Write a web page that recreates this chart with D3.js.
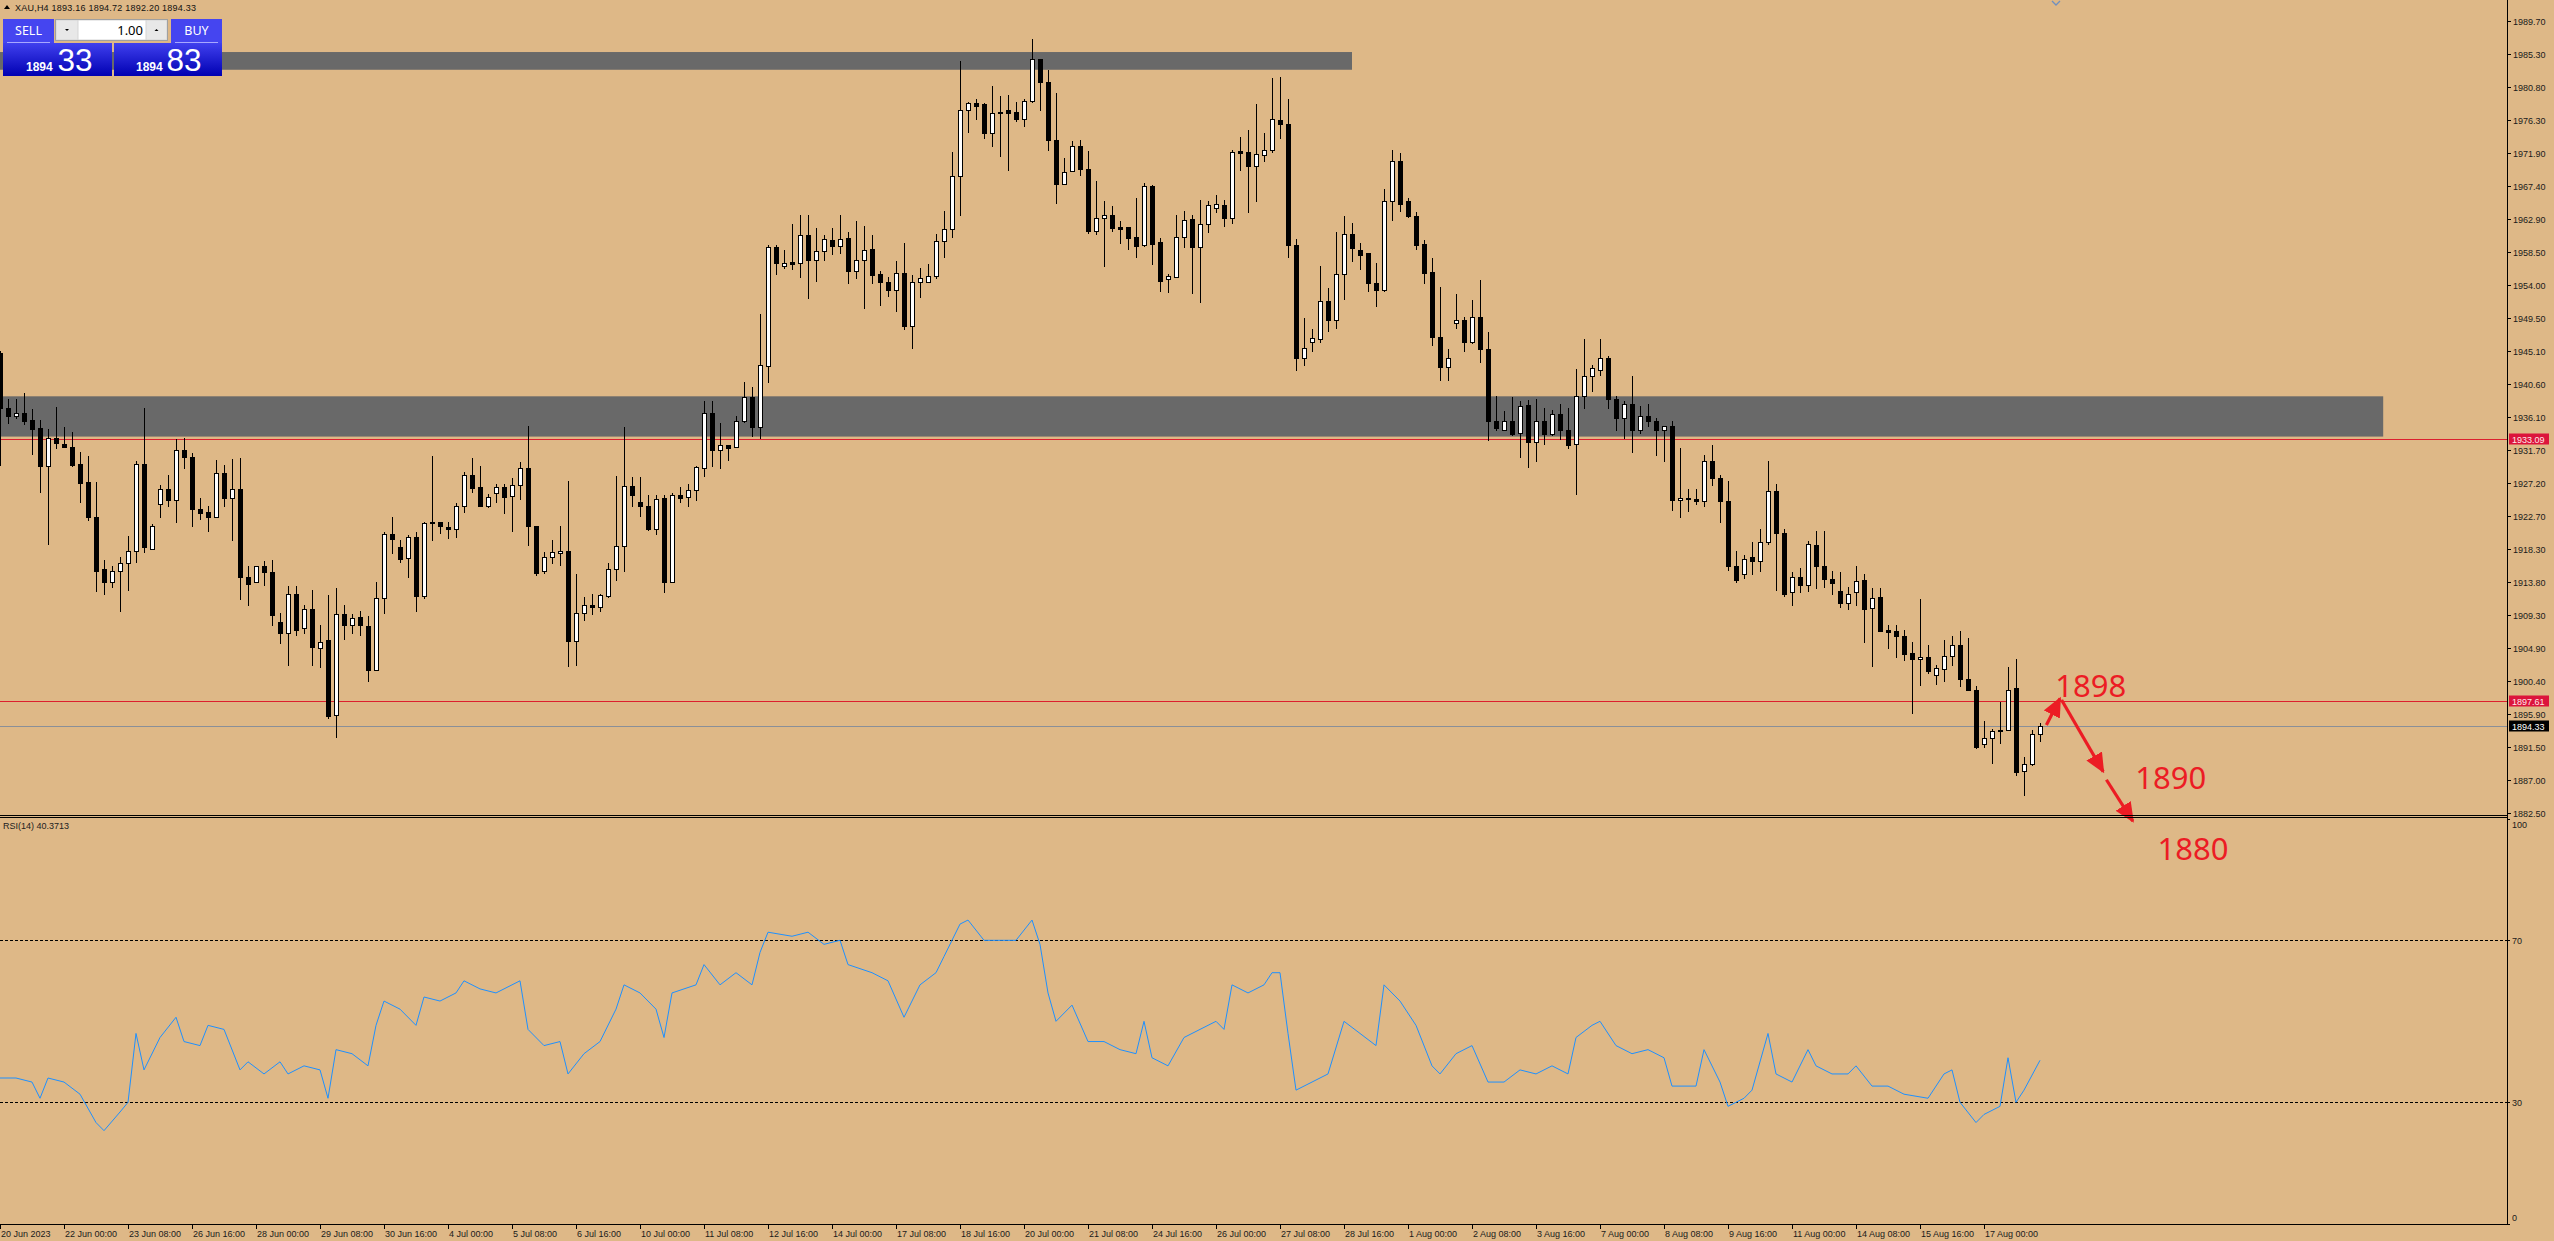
<!DOCTYPE html>
<html><head><meta charset="utf-8">
<script src="https://cdn.jsdelivr.net/npm/d3@7"></script>
<style>
html,body{margin:0;padding:0;background:#DEB887;overflow:hidden}
svg{display:block}
</style></head><body>
<svg id="c" width="2554" height="1241"></svg>
<script>
// ---------------- DATA ----------------
const symbol = "XAU,H4";
const opens = [
1944.7,1937.3,1936.2,1936.6,1935.7,1934.6,1929.4,1933.2,1932.5,1932.1,
1929.7,1927.3,1922.6,1915.5,1913.7,1915.3,1916.3,1917.9,1929.8,1918.3,
1924.3,1926.3,1924.8,1931.7,1930.7,1923.7,1923.2,1922.5,1928.5,1925.2,
1926.4,1914.4,1913.7,1916.0,1915.1,1908.3,1906.8,1912.2,1907.5,1910.1,
1904.9,1905.9,1895.7,1909.4,1907.9,1909.0,1907.8,1901.9,1911.6,1920.2,
1918.5,1917.0,1919.9,1911.9,1921.7,1921.9,1921.2,1921.0,1924.0,1928.3,
1926.6,1924.0,1925.8,1926.6,1925.4,1926.9,1929.2,1921.4,1915.2,1917.1,
1917.7,1917.9,1905.8,1909.6,1910.7,1910.4,1911.9,1915.5,1918.7,1926.8,
1924.6,1924.1,1920.9,1925.1,1913.7,1925.6,1925.3,1926.2,1929.2,1936.7,
1931.7,1932.3,1932.1,1935.6,1938.8,1934.7,1943.0,1959.1,1956.5,1957.1,
1957.0,1960.7,1957.4,1958.6,1960.1,1959.2,1960.3,1955.9,1957.3,1958.9,
1955.4,1954.4,1953.3,1955.6,1948.4,1954.4,1954.4,1955.2,1959.9,1961.6,
1968.7,1977.7,1978.6,1978.4,1974.6,1977.4,1977.6,1977.4,1976.4,1978.9,
1984.5,1981.5,1973.6,1967.7,1969.4,1972.8,1969.7,1961.3,1963.0,1963.4,
1961.8,1961.8,1960.5,1959.4,1967.4,1959.8,1954.8,1955.1,1960.4,1962.9,
1959.1,1962.2,1964.4,1964.8,1963.0,1972.1,1972.0,1970.1,1971.5,1972.2,
1976.3,1975.7,1959.4,1944.1,1946.2,1946.6,1951.8,1949.2,1955.5,1960.9,
1958.7,1958.3,1954.3,1953.3,1965.3,1970.8,1965.3,1963.3,1959.5,1955.7,
1946.9,1942.9,1948.8,1949.2,1946.3,1949.7,1945.3,1935.5,1934.3,1935.5,
1934.0,1937.7,1932.7,1935.5,1933.8,1936.5,1934.4,1932.4,1938.9,1941.7,
1942.4,1944.1,1938.6,1936.0,1937.9,1934.3,1936.2,1935.6,1934.4,1934.9,
1924.9,1925.2,1925.0,1924.7,1930.2,1927.8,1924.7,1916.0,1914.8,1917.1,
1916.6,1919.2,1926.1,1920.4,1912.4,1914.5,1913.3,1918.8,1916.0,1914.2,
1912.5,1910.9,1912.4,1914.0,1910.2,1911.7,1907.3,1907.1,1906.4,1904.1,
1903.4,1903.6,1901.2,1902.0,1903.8,1905.3,1900.7,1899.2,1891.9,1892.6,
1893.8,1893.8,1899.4,1888.2,1889.1,1893.16];
const highs = [
1945.0,1938.6,1938.6,1939.4,1937.2,1935.7,1934.5,1937.5,1934.7,1934.1,
1931.3,1930.8,1927.3,1916.7,1915.9,1917.2,1920.0,1930.1,1937.3,1921.6,
1926.9,1928.3,1933.1,1933.2,1931.2,1925.1,1924.0,1930.3,1929.6,1930.4,
1930.6,1915.9,1916.0,1916.6,1916.7,1909.6,1913.2,1913.2,1910.7,1912.7,
1907.9,1912.0,1912.9,1910.7,1909.4,1909.8,1909.1,1913.8,1920.5,1922.6,
1919.5,1920.1,1920.6,1921.9,1930.8,1921.9,1921.9,1924.4,1928.6,1930.6,
1929.5,1925.7,1927.0,1927.0,1927.9,1930.0,1934.9,1921.4,1917.8,1919.5,
1921.4,1927.4,1914.8,1911.8,1912.1,1912.2,1916.4,1928.1,1934.7,1928.0,
1928.0,1925.6,1925.6,1925.6,1925.8,1926.6,1927.0,1929.4,1938.3,1938.3,
1935.3,1932.3,1936.2,1940.9,1940.1,1950.1,1959.4,1959.4,1958.7,1962.2,
1963.4,1963.5,1961.7,1960.8,1961.7,1963.5,1961.1,1962.6,1961.9,1960.8,
1955.9,1955.1,1957.2,1959.7,1955.3,1956.3,1956.8,1960.9,1964.0,1972.0,
1984.3,1978.8,1979.1,1978.6,1980.9,1979.6,1979.7,1978.8,1979.1,1987.2,
1984.5,1983.1,1979.9,1971.2,1973.4,1973.6,1972.1,1968.0,1965.4,1964.6,
1962.6,1961.8,1965.7,1967.8,1967.5,1960.3,1955.5,1963.5,1964.0,1963.5,
1965.5,1965.4,1966.1,1965.5,1972.3,1974.0,1974.9,1978.4,1974.5,1982.0,
1982.1,1979.1,1960.2,1949.5,1948.0,1956.6,1953.6,1961.1,1963.3,1962.3,
1959.6,1958.3,1956.9,1967.0,1972.2,1971.9,1965.8,1963.8,1960.0,1957.6,
1953.7,1945.3,1952.7,1949.6,1951.9,1954.6,1947.6,1938.9,1936.9,1938.8,
1938.3,1938.4,1938.6,1937.3,1937.1,1937.9,1937.3,1942.6,1946.7,1943.2,
1946.7,1944.3,1938.9,1938.2,1941.7,1937.6,1937.9,1936.0,1934.9,1935.5,
1931.9,1926.4,1926.4,1931.0,1932.3,1928.3,1927.5,1917.9,1917.4,1919.2,
1921.0,1930.1,1927.0,1920.9,1915.1,1915.7,1919.3,1920.7,1920.7,1915.3,
1915.1,1913.1,1916.0,1914.8,1913.0,1913.0,1908.0,1907.9,1907.3,1905.7,
1911.5,1905.3,1902.6,1905.9,1906.4,1907.1,1906.2,1899.7,1895.0,1893.9,
1897.5,1902.3,1903.3,1890.1,1893.7,1894.72];
const lows = [
1929.6,1935.3,1935.9,1935.2,1931.1,1925.9,1918.9,1931.9,1932.0,1929.4,
1924.6,1922.2,1912.6,1912.1,1913.1,1909.9,1912.7,1916.5,1917.8,1918.3,
1922.6,1924.0,1921.9,1929.2,1921.4,1922.3,1920.7,1922.5,1924.0,1919.5,
1911.4,1910.7,1913.7,1913.3,1908.0,1905.5,1902.5,1906.6,1906.8,1902.5,
1902.3,1895.3,1892.8,1906.1,1906.8,1906.6,1900.4,1901.8,1909.6,1917.7,
1916.5,1914.4,1909.9,1911.6,1919.4,1920.4,1919.7,1919.9,1923.2,1926.0,
1924.0,1923.9,1924.6,1923.1,1920.7,1925.0,1918.8,1914.7,1915.0,1916.3,
1916.1,1902.4,1902.5,1908.6,1909.4,1909.8,1911.8,1914.0,1915.3,1924.0,
1922.7,1920.8,1920.3,1912.4,1913.7,1924.6,1924.1,1924.8,1928.1,1929.4,
1929.2,1930.3,1932.1,1935.4,1933.5,1933.3,1940.8,1955.5,1956.3,1956.1,
1955.1,1952.2,1954.5,1957.3,1958.1,1958.3,1954.2,1954.9,1950.9,1954.2,
1951.2,1952.5,1950.4,1948.0,1945.4,1952.3,1954.4,1954.9,1957.7,1960.5,
1963.5,1974.7,1976.4,1973.9,1972.8,1971.4,1969.6,1976.1,1975.5,1978.8,
1977.6,1972.3,1965.1,1967.7,1969.4,1968.9,1961.0,1960.9,1956.6,1961.3,
1959.6,1958.9,1957.7,1959.3,1956.8,1953.1,1953.0,1955.1,1959.1,1952.9,
1951.6,1961.1,1963.9,1961.9,1962.3,1969.5,1963.8,1965.4,1970.8,1972.0,
1973.8,1957.7,1942.4,1943.2,1945.1,1946.3,1947.7,1948.1,1952.1,1957.2,
1956.1,1953.1,1951.1,1953.1,1962.7,1964.0,1963.2,1958.8,1954.2,1945.8,
1941.1,1941.1,1948.2,1945.0,1946.1,1943.5,1933.0,1934.3,1934.3,1933.7,
1930.7,1929.3,1930.2,1932.4,1933.7,1933.1,1931.9,1925.7,1937.3,1939.6,
1941.8,1937.3,1934.3,1933.2,1931.3,1934.0,1934.9,1931.0,1930.1,1923.5,
1922.5,1923.4,1924.3,1924.1,1926.9,1921.9,1915.4,1913.7,1914.3,1914.9,
1915.3,1918.9,1912.7,1911.9,1910.7,1912.4,1912.5,1913.0,1913.1,1912.1,
1910.4,1910.1,1910.7,1905.7,1902.4,1907.1,1904.8,1903.6,1903.2,1896.1,
1899.8,1901.5,1900.0,1900.3,1902.6,1899.7,1899.1,1891.3,1891.4,1889.3,
1892.0,1893.7,1887.6,1884.9,1889.0,1892.20];
const closes = [
1937.3,1936.2,1936.6,1935.6,1934.5,1929.4,1933.2,1932.6,1932.0,1929.6,
1927.2,1922.6,1915.3,1913.7,1915.3,1916.3,1917.9,1929.8,1918.5,1921.4,
1926.3,1924.8,1931.7,1930.7,1923.6,1923.1,1922.5,1928.5,1925.2,1926.3,
1914.4,1913.5,1916.0,1915.1,1909.3,1906.8,1912.2,1907.3,1910.1,1905.0,
1905.7,1895.6,1909.4,1907.9,1908.9,1907.9,1901.9,1911.6,1920.2,1919.6,
1916.9,1919.9,1911.9,1921.7,1921.9,1921.4,1921.0,1924.0,1928.3,1926.5,
1924.0,1925.3,1926.6,1925.3,1926.9,1929.2,1921.4,1915.0,1917.2,1917.8,
1917.9,1905.8,1909.6,1910.7,1910.4,1912.0,1915.5,1918.7,1926.8,1925.5,
1924.0,1920.9,1925.0,1913.7,1925.6,1925.1,1926.2,1929.3,1936.7,1931.7,
1932.3,1931.9,1935.6,1938.8,1934.7,1943.1,1959.1,1957.0,1957.0,1956.8,
1960.7,1957.4,1958.6,1960.2,1959.2,1960.2,1955.9,1957.3,1958.7,1955.3,
1954.4,1953.3,1955.6,1948.4,1954.4,1954.9,1955.2,1959.9,1961.6,1968.7,
1977.7,1978.6,1978.2,1974.6,1977.3,1977.3,1977.3,1976.4,1978.9,1984.5,
1981.5,1973.6,1967.7,1969.3,1972.8,1969.7,1961.3,1963.0,1963.4,1961.7,
1961.6,1960.3,1959.3,1967.4,1959.5,1954.5,1955.2,1960.4,1962.8,1959.1,
1962.2,1964.8,1964.9,1963.0,1972.0,1971.9,1970.1,1971.7,1972.3,1976.4,
1975.7,1959.4,1944.1,1945.5,1946.8,1951.8,1949.2,1955.5,1960.9,1959.0,
1958.0,1954.2,1953.3,1965.4,1970.8,1964.9,1963.3,1959.4,1955.6,1946.9,
1942.9,1944.1,1949.2,1946.3,1949.7,1945.3,1935.5,1934.6,1935.5,1933.8,
1937.6,1932.7,1935.5,1933.8,1936.5,1934.3,1932.3,1938.9,1941.7,1942.7,
1944.1,1938.6,1936.0,1937.8,1934.3,1936.3,1935.6,1934.3,1934.9,1924.9,
1925.2,1925.0,1924.7,1930.2,1927.8,1924.7,1916.0,1914.0,1916.9,1916.6,
1919.2,1926.1,1920.4,1912.2,1914.5,1913.3,1918.9,1915.9,1914.2,1913.6,
1910.9,1912.2,1913.9,1910.1,1911.6,1907.2,1907.0,1906.4,1904.0,1903.3,
1903.6,1901.7,1902.1,1903.8,1905.3,1900.6,1899.2,1891.5,1892.6,1893.6,
1893.6,1899.2,1888.1,1889.1,1893.2,1894.33];

// RSI(14) readings: bar index and value
const rsiBars = [0,2,4,5,6,8,10,12,13,15,16,17,18,20,22,23,25,26,28,30,31,33,35,36,38,40,41,42,44,46,47,48,50,52,53,55,57,58,60,62,65,66,68,70,71,73,75,77,78,80,82,83,84,87,88,90,92,94,95,96,99,101,103,105,106,109,111,113,115,117,118,120,121,123,125,127,129,130,131,132,134,136,138,140,142,143,144,146,148,150,152,153,154,156,158,159,160,161,162,164,166,168,170,172,173,175,177,179,180,182,184,186,188,190,192,194,196,197,199,200,202,204,206,208,209,212,213,215,216,218,219,221,222,224,226,227,229,231,232,234,236,238,241,243,244,245,247,248,250,251,252,253,255];
const rsiVals = [36,36,35,31,36,35,32,25,23,27.6,30,47,38,46,51,45,44,49,48,38,40,37,40,37,39,38,31,43,42,39,49,55,53,49,56,55,57,60,58,57,60,48,44,45,37,42,45,53,59,57,53,46,57,59,64,59,62,59,67,72,71,72,69,70,64,62,60,51,59,62,66,74,75,70,70,70,75,69,57,50,54,45,45,43,42,50,41,39,46,48,50,48,59,57,59,62,62,47,33,35,37,50,47,44,59,55,49,39,37,42,44,35,35,38,37,39,37,46,49,50,44,42,43,41,34,34,43,35,29,31,33,47,37,35,43,39,37,37,39,34,34,32,31,37,38,30,25,27,29,41,30,33,40.37];
const rsiLastText = "40.3713";

const priceTicks = ["1989.70","1985.30","1980.80","1976.30","1971.90","1967.40","1962.90","1958.50","1954.00","1949.50","1945.10","1940.60","1936.10","1931.70","1927.20","1922.70","1918.30","1913.80","1909.30","1904.90","1900.40","1895.90","1891.50","1887.00","1882.50"];
const rsiTicks = [100,70,30,0];
const rsiLevels = [70,30];
const timeLabels = ["20 Jun 2023","22 Jun 00:00","23 Jun 08:00","26 Jun 16:00","28 Jun 00:00","29 Jun 08:00","30 Jun 16:00","4 Jul 00:00","5 Jul 08:00","6 Jul 16:00","10 Jul 00:00","11 Jul 08:00","12 Jul 16:00","14 Jul 00:00","17 Jul 08:00","18 Jul 16:00","20 Jul 00:00","21 Jul 08:00","24 Jul 16:00","26 Jul 00:00","27 Jul 08:00","28 Jul 16:00","1 Aug 00:00","2 Aug 08:00","3 Aug 16:00","7 Aug 00:00","8 Aug 08:00","9 Aug 16:00","11 Aug 00:00","14 Aug 08:00","15 Aug 16:00","17 Aug 00:00"];
const labelEvery = 8;

// zones (price bands) : [fromBar, toBar, upperPrice, lowerPrice]
const zoneUpper = [-30, 169, 1985.5, 1983.1];
const zoneLower = [-30, 297.9, 1938.9, 1933.45];
const redLevels = [1933.09, 1897.61];
const bidPrice = 1894.33;
const markerAt = [257, 1992.4];

// projection annotation: arrows [bar0, price0, bar1, price1], labels [bar, price, text]
const arrows = [[255.8,1894.4,257.5,1898.0],[257.7,1897.8,262.9,1888.1],[263.3,1887.0,266.6,1881.4]];
const noteLabels = [[256.9,1898.2,"1898"],[266.9,1885.8,"1890"],[269.7,1876.1,"1880"]];

// trade panel
const bidQuote = ["1894","33"], askQuote = ["1894","83"], lotSize = "1.00";

// ---------------- DRAW ----------------
const W=2554,H=1241, axisX=2507, mainBottom=815, rsiTop=818, rsiBottom=1224;
const x = d3.scaleLinear().domain([0,255]).range([0,2040]);
const y = d3.scaleLinear().domain([1882.5,1989.7]).range([813,21]);
const yr = d3.scaleLinear().domain([0,100]).range([1223.8,818.8]);
const svg = d3.select('#c');
const defs = svg.append('defs');
defs.append('clipPath').attr('id','mainClip').append('rect').attr('x',0).attr('y',0).attr('width',axisX).attr('height',mainBottom);
defs.append('clipPath').attr('id','rsiClip').append('rect').attr('x',0).attr('y',rsiTop).attr('width',axisX).attr('height',rsiBottom-rsiTop);
const bg = defs.append('linearGradient').attr('id','bluegrad').attr('x1',0).attr('y1',0).attr('x2',0).attr('y2',1);
bg.append('stop').attr('offset','0%').attr('stop-color','#4040ee');
bg.append('stop').attr('offset','100%').attr('stop-color','#0000b2');
defs.append('marker').attr('id','ah').attr('viewBox','0 0 20 18').attr('refX',18).attr('refY',9)
  .attr('markerWidth',20).attr('markerHeight',18).attr('markerUnits','userSpaceOnUse').attr('orient','auto')
  .append('path').attr('d','M0,0 L20,9 L0,18 Z').attr('fill','#ec1c24');

svg.append('rect').attr('width',W).attr('height',H).attr('fill','#DEB887');

const main = svg.append('g').attr('clip-path','url(#mainClip)');
[zoneUpper, zoneLower].forEach(z=>{
  main.append('rect').attr('x',x(z[0])).attr('width',x(z[1])-x(z[0]))
    .attr('y',y(z[2])).attr('height',y(z[3])-y(z[2])).attr('fill','#696969');
});
redLevels.forEach(p=>{
  main.append('line').attr('x1',0).attr('x2',axisX).attr('y1',Math.round(y(p))+0.5).attr('y2',Math.round(y(p))+0.5)
    .attr('stroke','#dc1f2e').attr('stroke-width',1);
});
main.append('line').attr('x1',0).attr('x2',axisX).attr('y1',Math.round(y(bidPrice))+0.5).attr('y2',Math.round(y(bidPrice))+0.5)
  .attr('stroke','#8a8f98').attr('stroke-width',1);
// small object marker at top edge
main.append('path').attr('d',`M${x(markerAt[0])-4},${y(markerAt[1])} L${x(markerAt[0])},${y(markerAt[1])+4} L${x(markerAt[0])+4},${y(markerAt[1])}`)
  .attr('fill','none').attr('stroke','#6f8fc0').attr('stroke-width',1.3);

// candles
const bars = opens.map((o,i)=>({i,o,h:highs[i],l:lows[i],c:closes[i]}));
const cg = main.append('g').attr('shape-rendering','crispEdges');
cg.selectAll('line.w').data(bars).join('line').attr('class','w')
  .attr('x1',d=>Math.round(x(d.i))+0.5).attr('x2',d=>Math.round(x(d.i))+0.5)
  .attr('y1',d=>Math.round(y(d.h))).attr('y2',d=>Math.round(y(d.l))+1)
  .attr('stroke','#000').attr('stroke-width',1);
cg.selectAll('rect.b').data(bars).join('rect').attr('class','b')
  .each(function(d){
    const top=Math.round(y(Math.max(d.o,d.c))), bot=Math.round(y(Math.min(d.o,d.c)));
    const cx=Math.round(x(d.i));
    const s=d3.select(this);
    if(d.c>=d.o){
      s.attr('x',cx-1.5).attr('y',top+0.5).attr('width',4).attr('height',Math.max(bot-top,1))
       .attr('fill','#fff').attr('stroke','#000').attr('stroke-width',1);
    } else {
      s.attr('x',cx-2).attr('y',top).attr('width',5).attr('height',Math.max(bot-top+1,2)).attr('fill','#000');
    }
  });

// annotations
const ann = svg.append('g');
arrows.forEach(a=>{
  ann.append('line').attr('x1',x(a[0])).attr('y1',y(a[1])).attr('x2',x(a[2])).attr('y2',y(a[3]))
    .attr('stroke','#ec1c24').attr('stroke-width',3.2).attr('marker-end','url(#ah)');
});
noteLabels.forEach(n=>{
  ann.append('text').attr('x',x(n[0])).attr('y',y(n[1])).text(n[2])
    .attr('font-family','"Noto Sans", "Open Sans", sans-serif').attr('font-size',31).attr('fill','#ec1c24');
});

// panel separators & axes
const ax = svg.append('g').attr('shape-rendering','crispEdges');
ax.append('line').attr('x1',0).attr('x2',axisX+1).attr('y1',mainBottom+0.5).attr('y2',mainBottom+0.5).attr('stroke','#000');
ax.append('line').attr('x1',0).attr('x2',axisX+1).attr('y1',rsiTop-0.5).attr('y2',rsiTop-0.5).attr('stroke','#000');
ax.append('line').attr('x1',axisX+0.5).attr('x2',axisX+0.5).attr('y1',0).attr('y2',rsiBottom+1).attr('stroke','#000');
ax.append('line').attr('x1',0).attr('x2',axisX+1).attr('y1',rsiBottom+0.5).attr('y2',rsiBottom+0.5).attr('stroke','#000');

const fontAx = '"Liberation Sans", Arial, sans-serif';
priceTicks.forEach(t=>{
  const yy=Math.round(y(+t));
  ax.append('line').attr('x1',axisX).attr('x2',axisX+4).attr('y1',yy+0.5).attr('y2',yy+0.5).attr('stroke','#000');
  svg.append('text').attr('x',axisX+6).attr('y',yy+3.5).text(t).attr('font-family',fontAx).attr('font-size',9).attr('fill','#1a1a1a');
});
function tag(p,bgc,txt){
  const yy=Math.round(y(p));
  svg.append('rect').attr('x',axisX+2).attr('y',yy-5.5).attr('width',40).attr('height',11).attr('fill',bgc);
  svg.append('text').attr('x',axisX+5).attr('y',yy+3.5).text(p.toFixed(2)).attr('font-family',fontAx).attr('font-size',9).attr('fill',txt);
}
tag(redLevels[0],'#dc143c','#ffe8e8');
tag(redLevels[1],'#dc143c','#ffe8e8');
tag(bidPrice,'#000','#fff');

// RSI
const rg = svg.append('g').attr('clip-path','url(#rsiClip)');
rsiLevels.forEach(v=>{
  rg.append('line').attr('x1',0).attr('x2',axisX).attr('y1',Math.round(yr(v))+0.5).attr('y2',Math.round(yr(v))+0.5)
    .attr('stroke','#000').attr('stroke-dasharray','3,2').attr('shape-rendering','crispEdges');
});
const rsiPts = rsiBars.map((b,k)=>[x(b), yr(rsiVals[k])]);
rg.append('path').attr('d',d3.line()(rsiPts)).attr('fill','none').attr('stroke','#1e90ff').attr('stroke-width',1);
rsiTicks.forEach(v=>{
  const yy=Math.round(yr(v));
  const off = v===100?9:(v===0?-3:3.5);
  ax.append('line').attr('x1',axisX).attr('x2',axisX+3).attr('y1',yy+0.5).attr('y2',yy+0.5).attr('stroke','#000');
  svg.append('text').attr('x',axisX+5).attr('y',yy+off).text(v).attr('font-family',fontAx).attr('font-size',9).attr('fill','#1a1a1a');
});
svg.append('text').attr('x',3).attr('y',829).text('RSI(14) '+rsiLastText)
  .attr('font-family',fontAx).attr('font-size',9).attr('fill','#222');

// time axis
timeLabels.forEach((t,k)=>{
  const xx=Math.round(x(k*labelEvery));
  ax.append('line').attr('x1',xx+0.5).attr('x2',xx+0.5).attr('y1',rsiBottom).attr('y2',rsiBottom+5).attr('stroke','#000');
  svg.append('text').attr('x',xx+1).attr('y',1237).text(t).attr('font-family',fontAx).attr('font-size',9).attr('fill','#1a1a1a');
});

// header
const last = bars[bars.length-1];
svg.append('path').attr('d','M4,9 L7,5 L10,9 Z').attr('fill','#000');
svg.append('text').attr('x',15).attr('y',10.5)
  .text(symbol+'  '+last.o.toFixed(2)+' '+last.h.toFixed(2)+' '+last.l.toFixed(2)+' '+last.c.toFixed(2))
  .attr('font-family',fontAx).attr('font-size',9).attr('fill','#111').attr('textLength',181).attr('lengthAdjust','spacing');

// trade panel
const tp = svg.append('g');
const uiFont = '"Noto Sans", "Liberation Sans", sans-serif';
function quoteBox(x0,x1,tabX0,tabX1,label){
  tp.append('rect').attr('x',tabX0).attr('y',19).attr('width',tabX1-tabX0).attr('height',25).attr('fill','#4545f0');
  tp.append('rect').attr('x',x0).attr('y',43).attr('width',x1-x0).attr('height',33).attr('fill','url(#bluegrad)');
  tp.append('line').attr('x1',tabX0+4).attr('x2',tabX1-4).attr('y1',42.5).attr('y2',42.5).attr('stroke','#a8a8ff');
  tp.append('text').attr('x',(tabX0+tabX1)/2).attr('y',35).attr('text-anchor','middle').text(label)
    .attr('font-family',uiFont).attr('font-size',12.5).attr('fill','#fff');
}
quoteBox(3,112,3,54,'SELL');
quoteBox(114,222,171,222,'BUY');
function quoteText(xs,xb,q){
  tp.append('text').attr('x',xs).attr('y',71).text(q[0]).attr('font-family','"Liberation Sans", sans-serif')
    .attr('font-weight','bold').attr('font-size',12).attr('fill','#fff');
  tp.append('text').attr('x',xb).attr('y',71).text(q[1]).attr('font-family','"Liberation Sans", sans-serif')
    .attr('font-size',31.5).attr('fill','#fff');
}
quoteText(26,57.5,bidQuote);
quoteText(136,166.5,askQuote);
tp.append('rect').attr('x',55.5).attr('y',19.5).attr('width',112).attr('height',21).attr('fill','#d4d4d4').attr('stroke','#a0a0a0');
tp.append('rect').attr('x',56.5).attr('y',20.5).attr('width',21).attr('height',19).attr('fill','#e8e8e8');
tp.append('rect').attr('x',146.5).attr('y',20.5).attr('width',20).attr('height',19).attr('fill','#e8e8e8');
tp.append('rect').attr('x',78.5).attr('y',20.5).attr('width',67).attr('height',19).attr('fill','#fff');
tp.append('path').attr('d','M65,29 L69,29 L67,31 Z').attr('fill','#000');
tp.append('path').attr('d','M154.5,31 L158.5,31 L156.5,29 Z').attr('fill','#000');
tp.append('text').attr('x',143).attr('y',34.5).attr('text-anchor','end').text(lotSize)
  .attr('font-family',uiFont).attr('font-size',13).attr('fill','#000');
</script>
</body></html>
